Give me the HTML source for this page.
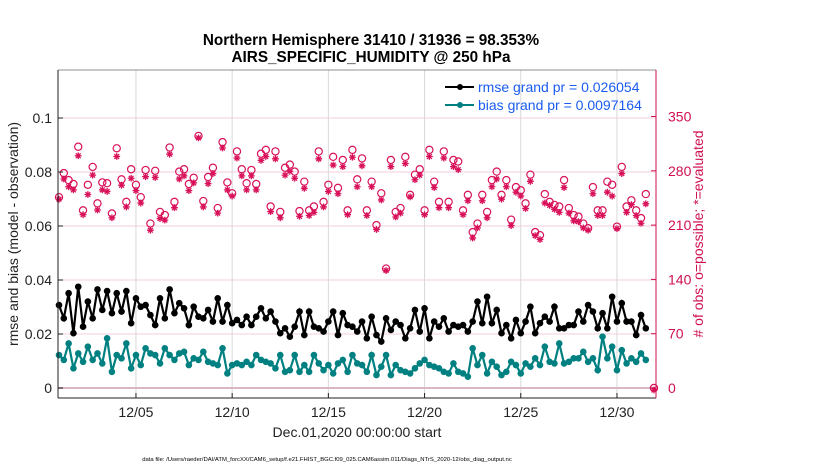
<!DOCTYPE html>
<html><head><meta charset="utf-8"><style>
body{margin:0;background:#fff;width:830px;height:470px;overflow:hidden}
svg text{font-family:"Liberation Sans",Arial,sans-serif}
</style></head><body>
<svg id="chart" width="830" height="470" xmlns="http://www.w3.org/2000/svg">
<g id="grid"></g>
<g id="marks"></g>
<g id="axes"></g>
<text x="371" y="45" text-anchor="middle" font-size="15.3" font-weight="bold">Northern Hemisphere 31410 / 31936 = 98.353%</text>
<text x="371" y="62" text-anchor="middle" font-size="15.3" font-weight="bold">AIRS_SPECIFIC_HUMIDITY @ 250 hPa</text>
<text transform="translate(18,234) rotate(-90)" text-anchor="middle" font-size="14" fill="#222">rmse and bias (model - observation)</text>
<text transform="translate(703,234) rotate(-90)" text-anchor="middle" font-size="14" fill="#d0104f"># of obs: o=possible; *=evaluated</text>
<text x="357" y="437" text-anchor="middle" font-size="14" fill="#222">Dec.01,2020 00:00:00 start</text>
<text x="327" y="461" text-anchor="middle" font-size="5.9" fill="#000">data file: /Users/raeder/DAI/ATM_forcXX/CAM6_setup/f.e21.FHIST_BGC.f09_025.CAM6assim.011/Diags_NTrS_2020-12/obs_diag_output.nc</text>
<g>
<g>
<line x1="445" y1="87" x2="474" y2="87" stroke="#000" stroke-width="2"/><circle cx="460" cy="87" r="3" fill="#000"/>
<text x="478" y="92" font-size="14" fill="#1a5cf0">rmse grand pr = 0.026054</text></g>
<g>
<line x1="445" y1="105" x2="474" y2="105" stroke="#008080" stroke-width="2"/><circle cx="460" cy="105" r="3" fill="#008080"/>
<text x="478" y="110" font-size="14" fill="#1a5cf0">bias grand pr = 0.0097164</text></g>
</g>
</svg>
<script>
const yTicks=[0,0.02,0.04,0.06,0.08,0.1];
const yTickLabels=["0","0.02","0.04","0.06","0.08","0.1"];
const rTicks=[0,70,140,210,280,350];
const xTicks=[5,10,15,20,25,30];
const xTickLabels=["12/05","12/10","12/15","12/20","12/25","12/30"];
const rmse=[0.0307,0.0258,0.0351,0.0203,0.0375,0.0227,0.0320,0.0258,0.0365,0.0289,0.0359,0.0277,0.0351,0.0283,0.0359,0.0240,0.0332,0.0301,0.0307,0.0270,0.0233,0.0332,0.0258,0.0365,0.0277,0.0314,0.0295,0.0233,0.0301,0.0264,0.0258,0.0289,0.0246,0.0332,0.0246,0.0307,0.0240,0.0252,0.0233,0.0264,
0.0233,0.0264,0.0295,0.0258,0.0283,0.0246,0.0203,0.0221,0.0190,0.0227,0.0283,0.0196,0.0283,0.0227,0.0221,0.0209,0.0246,0.0283,0.0196,0.0277,0.0233,0.0227,0.0209,0.0246,0.0184,0.0264,0.0196,0.0172,0.0258,0.0215,0.0246,0.0233,0.0184,0.0221,0.0289,0.0209,0.0295,0.0184,0.0246,0.0227,0.0258,0.0209,0.0233,
0.0227,0.0233,0.0209,0.0246,0.0320,0.0240,0.0338,0.0240,0.0289,0.0203,0.0233,0.0184,0.0252,0.0203,0.0246,0.0301,0.0203,0.0240,0.0264,0.0246,0.0301,0.0221,0.0221,0.0233,0.0233,0.0283,0.0246,0.0307,0.0283,0.0221,0.0277,0.0221,0.0338,0.0246,0.0314,0.0246,0.0246,0.0196,0.0270,0.0221];
const bias=[0.0122,0.0104,0.0165,0.0073,0.0128,0.0097,0.0153,0.0104,0.0128,0.0091,0.0184,0.0060,0.0122,0.0110,0.0165,0.0073,0.0122,0.0085,0.0147,0.0128,0.0122,0.0091,0.0147,0.0122,0.0104,0.0128,0.0134,0.0085,0.0110,0.0104,0.0134,0.0097,0.0091,0.0085,0.0147,0.0054,0.0085,0.0091,0.0085,0.0097,
0.0085,0.0122,0.0104,0.0097,0.0091,0.0073,0.0122,0.0060,0.0066,0.0122,0.0060,0.0085,0.0060,0.0122,0.0091,0.0066,0.0085,0.0054,0.0091,0.0104,0.0060,0.0122,0.0091,0.0085,0.0060,0.0122,0.0048,0.0079,0.0122,0.0048,0.0085,0.0066,0.0060,0.0054,0.0073,0.0091,0.0104,0.0085,0.0079,0.0073,0.0060,0.0054,0.0091,
0.0060,0.0054,0.0042,0.0147,0.0085,0.0122,0.0054,0.0097,0.0079,0.0048,0.0060,0.0097,0.0085,0.0054,0.0091,0.0079,0.0110,0.0085,0.0153,0.0097,0.0091,0.0165,0.0091,0.0097,0.0110,0.0110,0.0134,0.0097,0.0110,0.0066,0.0190,0.0110,0.0153,0.0066,0.0140,0.0091,0.0110,0.0097,0.0128,0.0104];
const obsPossible=[246,277,268,263,311,229,262,285,238,265,264,225,309,269,240,282,262,246,281,212,280,227,223,310,240,279,282,263,271,325,241,272,284,232,317,265,251,305,282,264,
281,263,302,307,234,305,227,284,288,279,228,266,229,234,305,240,262,298,258,294,229,307,269,296,229,266,210,251,154,294,227,232,298,249,275,282,229,307,266,240,305,240,294,
292,229,249,201,212,249,227,268,279,249,268,217,259,255,238,275,201,197,250,240,236,234,268,232,223,221,212,206,259,229,229,266,262,208,285,234,242,229,219,250,0];
const obsEvaluated=[246,272,262,258,302,226,252,277,232,258,256,222,301,264,236,273,257,241,275,206,274,221,219,304,235,272,276,257,267,325,236,266,279,228,312,258,250,299,276,258,
276,258,296,301,230,298,222,277,282,273,224,260,225,229,298,236,256,290,253,288,226,300,262,289,225,262,207,245,154,288,223,228,292,249,271,277,226,301,261,235,299,235,288,
284,226,244,196,209,244,222,262,272,246,262,212,255,250,234,269,199,194,241,238,233,229,261,228,218,217,209,206,253,225,225,255,250,208,279,229,239,225,215,240,0];

const L=58,R=656,T=70,B=398;
const x=d=>59+(d-1)*19.24;
const xi=i=>x(1+i*0.25);
const y=v=>388-v*2700;
const yr=c=>388-c*54.3/70;
const NS="http://www.w3.org/2000/svg";
function mk(tag,attrs,parent){const e=document.createElementNS(NS,tag);for(const k in attrs)e.setAttribute(k,attrs[k]);parent.appendChild(e);return e;}
const grid=document.getElementById('grid'),marks=document.getElementById('marks'),axes=document.getElementById('axes');
mk('rect',{x:L,y:T,width:R-L,height:B-T,fill:'#fff'},grid);
yTicks.forEach((v,i)=>{
 const g=mk('line',{x1:L,x2:R,y1:y(v),y2:y(v),stroke:'#f3cddc','stroke-width':1},grid);
 
 
 mk('line',{x1:L,x2:L+5,y1:y(v),y2:y(v),stroke:'#222'},axes);
 const t=mk('text',{x:L-6,y:y(v)+5,'text-anchor':'end','font-size':14,fill:'#222'},axes);
 t.textContent=yTickLabels[i];
 
 
});
xTicks.forEach((d,i)=>{
 const g=mk('line',{x1:x(d),x2:x(d),y1:T,y2:B,stroke:'#d8d8d8'},grid);
 
 
 mk('line',{x1:x(d),x2:x(d),y1:B,y2:B-5,stroke:'#222'},axes);
 const t=mk('text',{x:x(d),y:B+19,'text-anchor':'middle','font-size':14,fill:'#222'},axes);
 t.textContent=xTickLabels[i];
 
 
});
rTicks.forEach(c=>{
 mk('line',{x1:R,x2:R-5,y1:yr(c),y2:yr(c),stroke:'#d0104f'},axes);
 const t=mk('text',{x:R+12,y:yr(c)+5,'font-size':14,fill:'#d0104f'},axes);
 t.textContent=String(c);
 
 
});
mk('line',{x1:L,x2:R,y1:y(0),y2:y(0),stroke:'#d9b7c2','stroke-width':2},grid);
mk('line',{x1:L,x2:L,y1:T,y2:B,stroke:'#222'},axes);
mk('line',{x1:L,x2:R,y1:B,y2:B,stroke:'#222'},axes);
mk('line',{x1:R,x2:R,y1:T,y2:B,stroke:'#d0104f'},axes);
mk('line',{x1:L,x2:R,y1:T,y2:T,stroke:'#222','stroke-width':0.5},axes);

obsPossible.forEach((c,i)=>{
 const px=i===obsPossible.length-1?R-2:xi(i);
 const o=mk('circle',{cx:px,cy:yr(c),r:3.6,fill:'none',stroke:'#d8115a','stroke-width':1.2},marks);
 
 
});
obsEvaluated.forEach((c,i)=>{
 const px=i===obsEvaluated.length-1?R-2:xi(i),py=yr(c)+2;
 const s=3.4;
 const a=mk('path',{d:`M${px-s},${py}H${px+s}M${px},${py-s}V${py+s}M${px-2.4},${py-2.4}L${px+2.4},${py+2.4}M${px-2.4},${py+2.4}L${px+2.4},${py-2.4}`,stroke:'#d8115a','stroke-width':1.3,fill:'none'},marks);
 
 
});
function series(vals,color,name){
 const l=mk('polyline',{points:vals.map((v,i)=>xi(i)+','+y(v)).join(' '),fill:'none',stroke:color,'stroke-width':2.2},marks);
 
 
 vals.forEach((v,i)=>{
  const c=mk('circle',{cx:xi(i),cy:y(v),r:3.3,fill:color},marks);
  
  
 });
}
series(bias,'#008080','bias');
series(rmse,'#000','rmse');
</script>
</body></html>
